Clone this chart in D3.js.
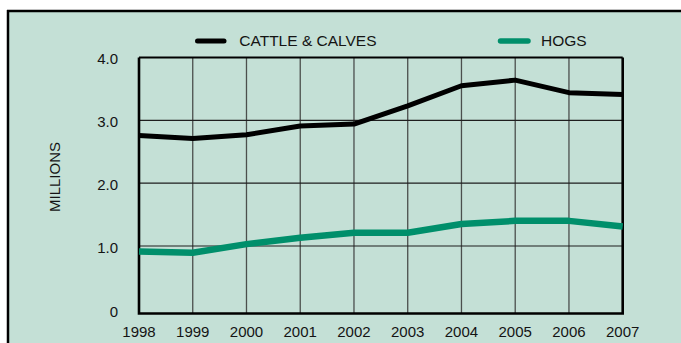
<!DOCTYPE html>
<html>
<head>
<meta charset="utf-8">
<script src="https://cdn.jsdelivr.net/npm/d3@7"></script>
<style>
  html, body { margin: 0; padding: 0; background: #ffffff; }
  svg { display: block; }
  text { font-family: "Liberation Sans", Arial, sans-serif; fill: #141414; }
</style>
</head>
<body>
<svg id="chart" width="681" height="343"></svg>
<script>
// ---- data ----
const years = [1998, 1999, 2000, 2001, 2002, 2003, 2004, 2005, 2006, 2007];
const cattle = [2.76, 2.71, 2.77, 2.91, 2.94, 3.23, 3.55, 3.64, 3.44, 3.41];
const hogs = [0.92, 0.90, 1.03, 1.13, 1.21, 1.21, 1.35, 1.40, 1.40, 1.31];
const yTicks = [0, 1, 2, 3, 4];
const yTickLabels = ["0", "1.0", "2.0", "3.0", "4.0"];
const seriesNames = ["CATTLE & CALVES", "HOGS"];
const yTitle = "MILLIONS";

// ---- layout ----
const W = 681, H = 343;
const plot = { left: 139, right: 622.7, top: 57.5, bottom: 313.5 };
const colors = { bg: "#c4e0d6", cattle: "#000000", hogs: "#008f6b", grid: "#4b4f4d" };

const svg = d3.select("#chart");

// background panel and frame
svg.append("rect").attr("x", 8).attr("y", 11).attr("width", W - 8).attr("height", H - 11)
  .attr("fill", colors.bg);
svg.append("line").attr("x1", 7).attr("x2", W).attr("y1", 11).attr("y2", 11)
  .attr("stroke", "#000").attr("stroke-width", 2.5);
svg.append("line").attr("x1", 8).attr("x2", 8).attr("y1", 10).attr("y2", H)
  .attr("stroke", "#000").attr("stroke-width", 2.5);

const x = d3.scaleLinear().domain([years[0], years[years.length - 1]]).range([plot.left, plot.right]);
const y = d3.scaleLinear().domain([0, 1, 4]).range([plot.bottom, 246, plot.top]);

// gridlines
const g = svg.append("g");
g.selectAll("line.vg").data(years.slice(1, -1)).join("line")
  .attr("x1", d => x(d)).attr("x2", d => x(d))
  .attr("y1", plot.top).attr("y2", plot.bottom)
  .attr("stroke", colors.grid).attr("stroke-width", 1.3);
g.selectAll("line.hg").data(yTicks.slice(1, -1)).join("line")
  .attr("x1", plot.left).attr("x2", plot.right)
  .attr("y1", d => y(d)).attr("y2", d => y(d))
  .attr("stroke", "#1e1e1e").attr("stroke-width", 1.2);

// plot frame
svg.append("line").attr("x1", plot.left).attr("x2", plot.right).attr("y1", plot.top).attr("y2", plot.top)
  .attr("stroke", "#000").attr("stroke-width", 2);
svg.append("path")
  .attr("d", `M${plot.left},${plot.top}V${plot.bottom}H${plot.right}V${plot.top}`)
  .attr("fill", "none").attr("stroke", "#000").attr("stroke-width", 2.6);

// lines
const line = d3.line().x((d, i) => x(years[i])).y(d => y(d));
svg.append("path").datum(hogs).attr("d", line)
  .attr("fill", "none").attr("stroke", colors.hogs).attr("stroke-width", 6.5)
  .attr("stroke-linejoin", "round");
svg.append("path").datum(cattle).attr("d", line)
  .attr("fill", "none").attr("stroke", colors.cattle).attr("stroke-width", 5)
  .attr("stroke-linejoin", "round");

// y tick labels
svg.selectAll("text.yt").data(yTicks).join("text")
  .attr("x", 118).attr("y", d => y(d)).attr("dy", d => d === 0 ? "0.25em" : "0.45em")
  .attr("text-anchor", "end").attr("font-size", 15)
  .text((d, i) => yTickLabels[i]);

// x tick labels
svg.selectAll("text.xt").data(years).join("text")
  .attr("x", d => x(d)).attr("y", (d, i) => i === years.length - 1 ? 337 : 336.5)
  .attr("text-anchor", "middle").attr("font-size", 15)
  .text(d => d);

// y title
svg.append("text").attr("transform", "translate(60,177) rotate(-90)")
  .attr("text-anchor", "middle").attr("font-size", 15).text(yTitle);

// legend
const legend = [
  { name: seriesNames[0], color: colors.cattle, x1: 197.5, x2: 224, tx: 239.3, w: 5 },
  { name: seriesNames[1], color: colors.hogs, x1: 500.5, x2: 528, tx: 541, w: 5.5 }
];
legend.forEach(l => {
  svg.append("line").attr("x1", l.x1).attr("x2", l.x2).attr("y1", 41).attr("y2", 41)
    .attr("stroke", l.color).attr("stroke-width", l.w).attr("stroke-linecap", "round");
  svg.append("text").attr("x", l.tx).attr("y", 46).attr("font-size", 15.5).text(l.name);
});
</script>
</body>
</html>
